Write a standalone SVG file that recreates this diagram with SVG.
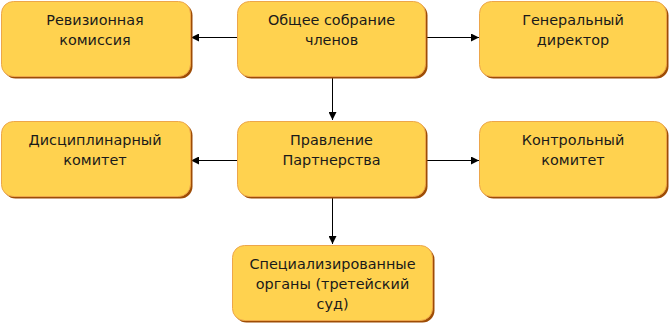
<svg xmlns="http://www.w3.org/2000/svg" width="670" height="325" viewBox="0 0 670 325">
<defs>
<style>
.sh{fill:#9E4C05}
.bx{fill:#FFD24F;stroke:#EDA64A;stroke-width:1}
.t{font-family:"DejaVu Sans",Verdana,sans-serif;font-size:14.4px;fill:#1a1a1a;text-anchor:middle}
.c{stroke:#000;stroke-width:1;fill:none}
</style>
<marker id="ah" viewBox="0 0 10 10" refX="10" refY="5" markerWidth="8" markerHeight="8" markerUnits="userSpaceOnUse" orient="auto">
<path d="M0,0 L10,5 L0,10 z" fill="#000"/>
</marker>
</defs>
<g id="connectors">
<line class="c" x1="237" y1="37.5" x2="191" y2="37.5" marker-end="url(#ah)"/>
<line class="c" x1="425" y1="37.5" x2="479" y2="37.5" marker-end="url(#ah)"/>
<line class="c" x1="332.5" y1="78" x2="332.5" y2="120" marker-end="url(#ah)"/>
<line class="c" x1="237" y1="160.5" x2="191" y2="160.5" marker-end="url(#ah)"/>
<line class="c" x1="425" y1="160.5" x2="479" y2="160.5" marker-end="url(#ah)"/>
<line class="c" x1="332.5" y1="197" x2="332.5" y2="244" marker-end="url(#ah)"/>
</g>
<g id="node-revision">
<rect class="sh" x="3.5" y="3.5" width="189" height="75" rx="12"/>
<rect class="bx" x="1.5" y="1.5" width="189" height="75" rx="12"/>
<text class="t" x="95" y="25">Ревизионная</text>
<text class="t" x="95" y="45">комиссия</text>
</g>
<g id="node-general-meeting">
<rect class="sh" x="239.5" y="3.5" width="188" height="75" rx="12"/>
<rect class="bx" x="237.5" y="1.5" width="188" height="75" rx="12"/>
<text class="t" x="331.5" y="25">Общее собрание</text>
<text class="t" x="331.5" y="45">членов</text>
</g>
<g id="node-director">
<rect class="sh" x="481.5" y="3.5" width="187" height="75" rx="12"/>
<rect class="bx" x="479.5" y="1.5" width="187" height="75" rx="12"/>
<text class="t" x="573" y="25">Генеральный</text>
<text class="t" x="573" y="45">директор</text>
</g>
<g id="node-disciplinary">
<rect class="sh" x="3.5" y="123.5" width="189" height="75" rx="12"/>
<rect class="bx" x="1.5" y="121.5" width="189" height="75" rx="12"/>
<text class="t" x="95" y="145">Дисциплинарный</text>
<text class="t" x="95" y="165">комитет</text>
</g>
<g id="node-board">
<rect class="sh" x="239.5" y="123.5" width="188" height="75" rx="12"/>
<rect class="bx" x="237.5" y="121.5" width="188" height="75" rx="12"/>
<text class="t" x="331.5" y="145">Правление</text>
<text class="t" x="331.5" y="165">Партнерства</text>
</g>
<g id="node-control">
<rect class="sh" x="481.5" y="123.5" width="187" height="75" rx="12"/>
<rect class="bx" x="479.5" y="121.5" width="187" height="75" rx="12"/>
<text class="t" x="573" y="145">Контрольный</text>
<text class="t" x="573" y="165">комитет</text>
</g>
<g id="node-special">
<rect class="sh" x="234.5" y="247.5" width="200" height="75" rx="12"/>
<rect class="bx" x="232.5" y="245.5" width="200" height="75" rx="12"/>
<text class="t" x="332.5" y="269">Специализированные</text>
<text class="t" x="332.5" y="289">органы (третейский</text>
<text class="t" x="332.5" y="309">суд)</text>
</g>
</svg>
